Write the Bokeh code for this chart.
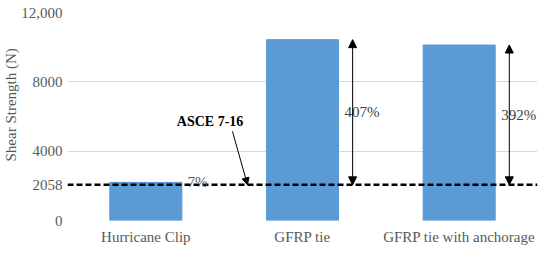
import math
from bokeh.plotting import figure
from bokeh.models import (ColumnDataSource, FixedTicker, Span, Arrow, NormalHead,
                          Label, FactorRange, Range1d, Title)
from bokeh.embed import file_html
from bokeh.resources import INLINE

# ---- data ----
categories = ["Hurricane Clip", "GFRP tie", "GFRP tie with anchorage"]
strength = [2200, 10434, 10125]
asce_value = 2058
asce_label = "ASCE 7-16"
percent_labels = ["7%", "407%", "392%"]
y_ticks = [0, 2058, 4000, 8000, 12000]
grid_ticks = [0, 4000, 8000, 12000]
y_max = 12000
y_title = "Shear Strength (N)"

FONT = "'Liberation Serif', serif"
GREY = "#595959"

W, H = 542, 247
p = figure(width=W, height=H,
           x_range=FactorRange(factors=categories, range_padding=0, factor_padding=0),
           y_range=Range1d(0, y_max),
           output_backend="svg", toolbar_location=None,
           min_border_left=67, min_border_right=5, min_border_top=12, min_border_bottom=25)
p.background_fill_color = "white"
p.border_fill_color = "white"
p.outline_line_color = None

src = ColumnDataSource(dict(cat=categories, val=strength))
p.vbar(x="cat", top="val", width=0.46, source=src,
       fill_color="#5b9bd5", line_color="#5b9bd5")

# grid
p.xgrid.visible = False
p.ygrid.ticker = FixedTicker(ticks=grid_ticks)
p.ygrid.grid_line_color = "#d9d9d9"
p.ygrid.grid_line_width = 1

# axes
ya = p.yaxis[0]
ya.ticker = FixedTicker(ticks=y_ticks)
ya.major_label_overrides = {12000: "12,000"}
ya.axis_line_color = None
ya.major_tick_line_color = None
ya.minor_tick_line_color = None
ya.major_tick_out = 0
ya.major_tick_in = 0
ya.major_label_text_font = FONT
ya.major_label_text_font_size = "15px"
ya.major_label_text_color = GREY
ya.major_label_standoff = 5

xa = p.xaxis[0]
xa.axis_line_color = None
xa.major_tick_line_color = None
xa.minor_tick_line_color = None
xa.major_tick_out = 0
xa.major_tick_in = 0
xa.major_label_text_font = FONT
xa.major_label_text_font_size = "15px"
xa.major_label_text_color = GREY
xa.major_label_standoff = 8

# y-axis title (as a left-side title)
p.add_layout(Title(text=y_title, align="left", offset=59, standoff=0,
                   text_font=FONT, text_font_size="15px", text_font_style="normal",
                   text_color=GREY), "left")

# ASCE dashed reference line
p.add_layout(Span(location=asce_value, dimension="width", line_color="black",
                  line_dash="6 3", line_width=2.5))

# ASCE label + arrow
p.add_layout(Label(x=0.91, y=asce_value + 3650, text=asce_label, text_align="center",
                   text_baseline="middle", text_font=FONT, text_font_size="14px",
                   text_font_style="bold", text_color="black"))
p.add_layout(Arrow(end=NormalHead(size=7, fill_color="black", line_color="black"),
                   x_start=1.053, y_start=asce_value + 3085, x_end=1.149, y_end=asce_value,
                   line_color="black", line_width=1))

# percentage annotations
ARROW_OFF = 0.32
LABEL_OFF = 0.38
for i, (val, lab) in enumerate(zip(strength, percent_labels)):
    xc = i + 0.5
    if i == 0:
        p.add_layout(Label(x=xc + 0.33, y=val, text=lab, text_align="center",
                           text_baseline="alphabetic", text_font=FONT,
                           text_font_size="15px", text_color=GREY))
    else:
        p.add_layout(Label(x=xc + LABEL_OFF, y=(val + asce_value) / 2, text=lab,
                           text_align="center", text_baseline="middle", text_font=FONT,
                           text_font_size="15px", text_color="#404040"))
        p.add_layout(Arrow(start=NormalHead(size=8, fill_color="black", line_color="black"),
                           end=NormalHead(size=8, fill_color="black", line_color="black"),
                           x_start=xc + ARROW_OFF, y_start=asce_value,
                           x_end=xc + ARROW_OFF, y_end=val,
                           line_color="black", line_width=1))

open("out.html", "w").write(file_html(p, INLINE))
